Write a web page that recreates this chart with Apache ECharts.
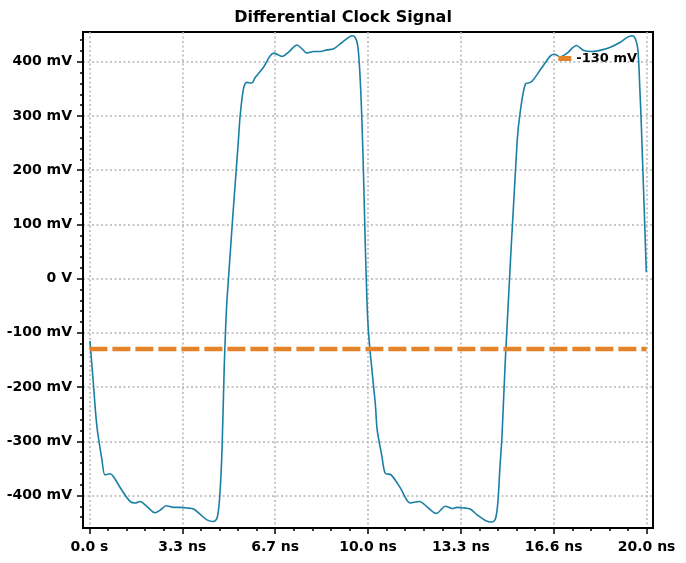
<!DOCTYPE html>
<html>
<head>
<meta charset="utf-8">
<title>Differential Clock Signal</title>
<script src="https://cdn.jsdelivr.net/npm/echarts@6/dist/echarts.min.js"></script>
<style>
  html, body { margin: 0; padding: 0; background: #fff; }
  #chart { width: 686px; height: 563px; }
</style>
</head>
<body>
<div id="chart"></div>
<script>
// scope trace: time in ns, voltage in mV
var timeNs = [
  0.02, 0.14, 0.27, 0.45, 0.56, 0.74, 0.86, 1.16, 1.46, 1.64, 1.82, 2.06, 2.36, 2.54, 2.76,
  3.02, 3.26, 3.50, 3.74, 3.98, 4.22, 4.45, 4.58, 4.67, 4.76, 4.84, 4.94, 5.35, 5.41, 5.53,
  5.65, 5.83, 5.95, 6.25, 6.49, 6.63, 6.91, 7.15, 7.45, 7.63, 7.81, 8.05, 8.29, 8.53, 8.77,
  9.00, 9.25, 9.43, 9.54, 9.63, 9.70, 9.78, 9.85, 9.91, 9.99, 10.08, 10.26, 10.33, 10.50, 10.62,
  10.83, 11.16, 11.52, 11.85, 12.12, 12.45, 12.78, 13.02, 13.20, 13.43, 13.67, 13.92, 14.21, 14.45, 14.57,
  14.66, 14.73, 14.81, 14.93, 15.35, 15.47, 15.65, 15.83, 15.95, 16.25, 16.55, 16.69, 16.91, 17.15, 17.48,
  17.75, 18.05, 18.40, 18.70, 19.06, 19.30, 19.48, 19.60, 19.69, 19.76, 19.81, 19.99
];
var voltageMv = [
  -115, -192, -273, -334, -362, -360, -365, -390, -411, -414, -411, -420, -432, -427, -419,
  -422, -422, -423, -425, -435, -445, -448, -442, -408, -316, -162, -38, 257, 300, 350,
  362, 361, 371, 390, 411, 416, 410, 418, 431, 424, 416, 419, 419, 422, 424,
  433, 443, 448, 445, 430, 387, 294, 171, 48, -75, -137, -229, -279, -328, -359,
  -362, -386, -414, -411, -421, -433, -420, -424, -422, -423, -425, -436, -446, -449, -444,
  -414, -353, -290, -149, 251, 310, 359, 362, 368, 390, 411, 414, 409, 416, 430,
  421, 419, 422, 427, 436, 445, 448, 442, 421, 347, 285, 12
];

var thresholdName = '-130 mV';
var thresholdMv = -130;
var thresholdSpanNs = [0, 20];

var xTickValues = [0, 10 / 3, 20 / 3, 10, 40 / 3, 50 / 3, 20];
var xTickLabels = ['0.0 s', '3.3 ns', '6.7 ns', '10.0 ns', '13.3 ns', '16.6 ns', '20.0 ns'];
var yTickValues = [-400, -300, -200, -100, 0, 100, 200, 300, 400];
var yTickLabels = ['-400 mV', '-300 mV', '-200 mV', '-100 mV', '0 V', '100 mV', '200 mV', '300 mV', '400 mV'];

var xRange = [-0.23, 20.23];
var yRange = [-460, 455];

// minor ticks: 5 steps between major ticks
var xMinor = [];
for (var i = 1; i < xTickValues.length; i++) {
  var step = (xTickValues[i] - xTickValues[i - 1]) / 5;
  for (var k = 1; k < 5; k++) xMinor.push(xTickValues[i - 1] + k * step);
}
var yMinor = [];
for (var v = -440; v <= 440; v += 20) {
  if (v % 100 !== 0) yMinor.push(v);
}

function pickLabel(values, labels, val) {
  for (var j = 0; j < values.length; j++) {
    if (Math.abs(values[j] - val) < 1e-6) return labels[j];
  }
  return '';
}

var font = 'DejaVu Sans';
var dotted = { color: '#b5b5b5', width: 1.5, type: [2, 2.5] };
var black = { color: '#000', width: 1.5 };

var chart = echarts.init(document.getElementById('chart'));
chart.setOption({
  animation: false,
  backgroundColor: '#fff',
  title: {
    text: 'Differential Clock Signal',
    left: 'center',
    top: 5,
    textStyle: { fontFamily: font, fontSize: 16, fontWeight: 'bold', color: '#000' }
  },
  legend: {
    data: [thresholdName],
    top: 47,
    right: 44,
    icon: 'rect',
    itemWidth: 13,
    itemHeight: 5,
    textStyle: { fontFamily: font, fontSize: 13, fontWeight: 'bold', color: '#000' }
  },
  grid: {
    left: 83, right: 33, top: 32, bottom: 35,
    show: true, borderColor: '#000', borderWidth: 2
  },
  xAxis: [{
    type: 'value',
    min: xRange[0], max: xRange[1],
    position: 'bottom',
    axisLine: { show: true, onZero: false, lineStyle: { color: '#000', width: 2 } },
    axisTick: { show: true, customValues: xTickValues, length: 6, lineStyle: black },
    axisLabel: {
      customValues: xTickValues, margin: 12,
      fontFamily: font, fontSize: 14, fontWeight: 'bold', color: '#000',
      formatter: function (val) { return pickLabel(xTickValues, xTickLabels, val); }
    },
    splitLine: { show: true, lineStyle: dotted }
  }, {
    type: 'value',
    min: xRange[0], max: xRange[1],
    position: 'bottom',
    axisLine: { show: false, onZero: false },
    axisTick: { show: true, customValues: xMinor, length: 3, lineStyle: black },
    axisLabel: { show: false },
    splitLine: { show: false }
  }],
  yAxis: [{
    type: 'value',
    min: yRange[0], max: yRange[1],
    position: 'left',
    axisLine: { show: true, onZero: false, lineStyle: { color: '#000', width: 2 } },
    axisTick: { show: true, customValues: yTickValues, length: 6, lineStyle: black },
    axisLabel: {
      customValues: yTickValues, margin: 11,
      fontFamily: font, fontSize: 14, fontWeight: 'bold', color: '#000',
      formatter: function (val) { return pickLabel(yTickValues, yTickLabels, val); }
    },
    splitLine: { show: true, lineStyle: dotted }
  }, {
    type: 'value',
    min: yRange[0], max: yRange[1],
    position: 'left',
    axisLine: { show: false, onZero: false },
    axisTick: { show: true, customValues: yMinor, length: 3, lineStyle: black },
    axisLabel: { show: false },
    splitLine: { show: false }
  }],
  series: [{
    name: 'signal',
    type: 'line',
    xAxisIndex: 0, yAxisIndex: 0,
    data: timeNs.map(function (t, i) { return [t, voltageMv[i]]; }),
    showSymbol: false,
    smooth: 0.3,
    lineStyle: { color: '#1a7fa5', width: 1.6 },
    itemStyle: { color: '#1a7fa5' },
    z: 3
  }, {
    name: thresholdName,
    type: 'line',
    xAxisIndex: 0, yAxisIndex: 0,
    data: thresholdSpanNs.map(function (t) { return [t, thresholdMv]; }),
    showSymbol: false,
    lineStyle: { color: '#e5832a', width: 4.5, type: [18, 5], cap: 'butt' },
    itemStyle: { color: '#e5832a' },
    z: 4
  }]
});
</script>
</body>
</html>
